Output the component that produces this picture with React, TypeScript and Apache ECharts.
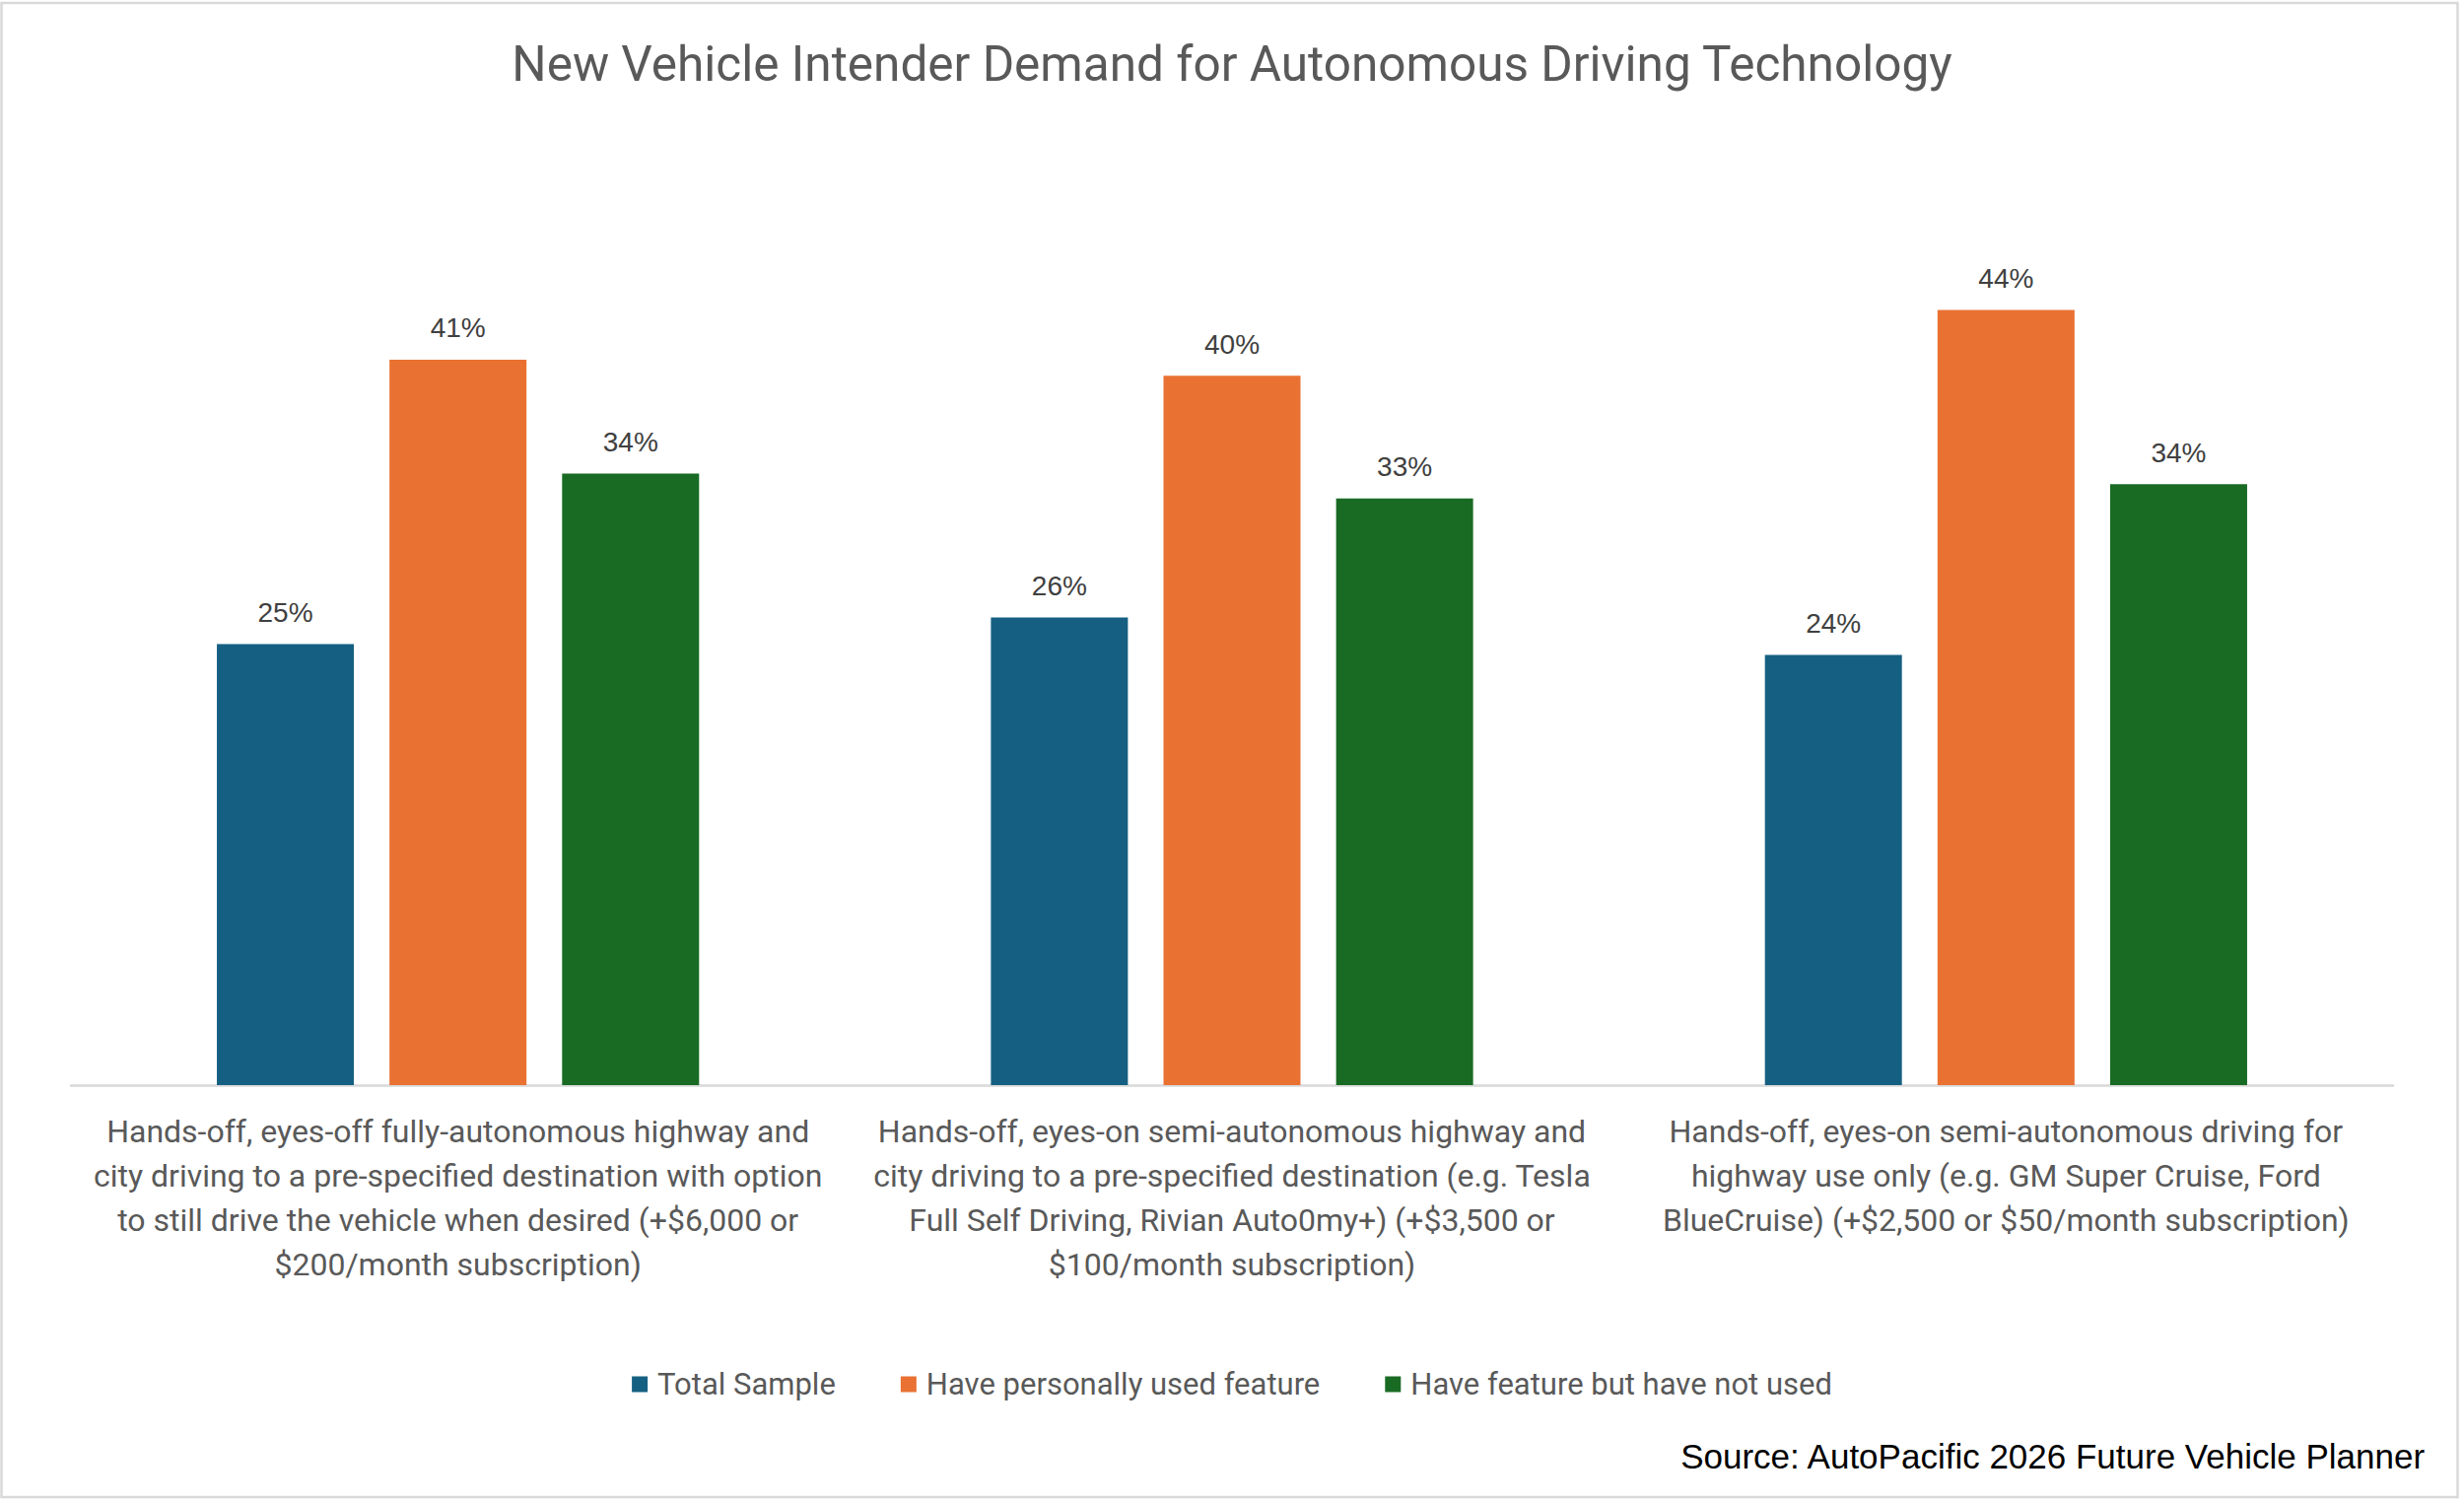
import React, { useEffect, useRef } from 'react'
import * as echarts from 'echarts'

const categories = [
  'Hands-off, eyes-off fully-autonomous highway and\ncity driving to a pre-specified destination with option\nto still drive the vehicle when desired (+$6,000 or\n$200/month subscription)',
  'Hands-off, eyes-on semi-autonomous highway and\ncity driving to a pre-specified destination (e.g. Tesla\nFull Self Driving, Rivian Auto0my+) (+$3,500 or\n$100/month subscription)',
  'Hands-off, eyes-on semi-autonomous driving for\nhighway use only (e.g. GM Super Cruise, Ford\nBlueCruise) (+$2,500 or $50/month subscription)',
]

const seriesNames = ['Total Sample', 'Have personally used feature', 'Have feature but have not used']
// shares in % (labels show them rounded)
const totalSample = [24.8, 26.3, 24.2]
const personallyUsed = [40.8, 39.9, 43.6]
const haveNotUsed = [34.4, 33.0, 33.8]
const colors = ['#156082', '#E97132', '#196B24']

const titleText = 'New Vehicle Intender Demand for Autonomous Driving Technology'
const sourceText = 'Source: AutoPacific 2026 Future Vehicle Planner'

export default function App() {
  const ref = useRef<HTMLDivElement>(null)

  useEffect(() => {
    const chart = echarts.init(ref.current as HTMLDivElement, undefined, { renderer: 'svg' })
    const values = [totalSample, personallyUsed, haveNotUsed]
    chart.setOption({
      animation: false,
      backgroundColor: '#ffffff',
      title: {
        text: titleText,
        left: 'center',
        top: 35,
        textStyle: { fontFamily: 'Roboto', fontSize: 49.5, fontWeight: 'normal', color: '#595959' },
      },
      legend: {
        bottom: 100,
        left: 'center',
        itemWidth: 16,
        itemHeight: 16,
        itemGap: 66,
        icon: 'rect',
        textStyle: { fontFamily: 'Roboto', fontSize: 31, color: '#595959', padding: [0, 0, 0, 5] },
        data: seriesNames,
      },
      grid: { left: 72, right: 72, top: 199, bottom: 424, containLabel: false },
      xAxis: {
        type: 'category',
        data: categories,
        axisLine: { lineStyle: { color: '#d9d9d9', width: 2.5 } },
        axisTick: { show: false },
        axisLabel: {
          interval: 0,
          margin: 24,
          fontFamily: 'Roboto',
          fontSize: 32,
          lineHeight: 45,
          color: '#595959',
          align: 'center',
          verticalAlign: 'top',
        },
      },
      yAxis: { type: 'value', min: 0, max: 50, show: false, splitLine: { show: false } },
      series: seriesNames.map((name, i) => ({
        name,
        type: 'bar',
        data: values[i],
        barGap: '26%',
        barCategoryGap: '37.7%',
        itemStyle: { color: colors[i] },
        label: {
          show: true,
          position: 'top',
          distance: 18,
          formatter: (p: any) => Math.round(p.value) + '%',
          fontFamily: 'Liberation Sans',
          fontSize: 28,
          color: '#404040',
        },
      })),
      graphic: [
        {
          type: 'rect',
          shape: { x: 1.5, y: 3, width: 2492, height: 1516 },
          style: { fill: 'none', stroke: '#d9d9d9', lineWidth: 2.5 },
          silent: true,
        },
        {
          type: 'text',
          right: 38,
          top: 1460,
          style: {
            text: sourceText,
            fontFamily: 'Liberation Sans',
            fontSize: 35,
            fill: '#000000',
          },
        },
      ],
    })
    return () => {
      chart.dispose()
    }
  }, [])

  return (
    <div
      ref={ref}
      style={{ position: 'absolute', left: 0, top: 0, width: 2500, height: 1525 }}
    />
  )
}
